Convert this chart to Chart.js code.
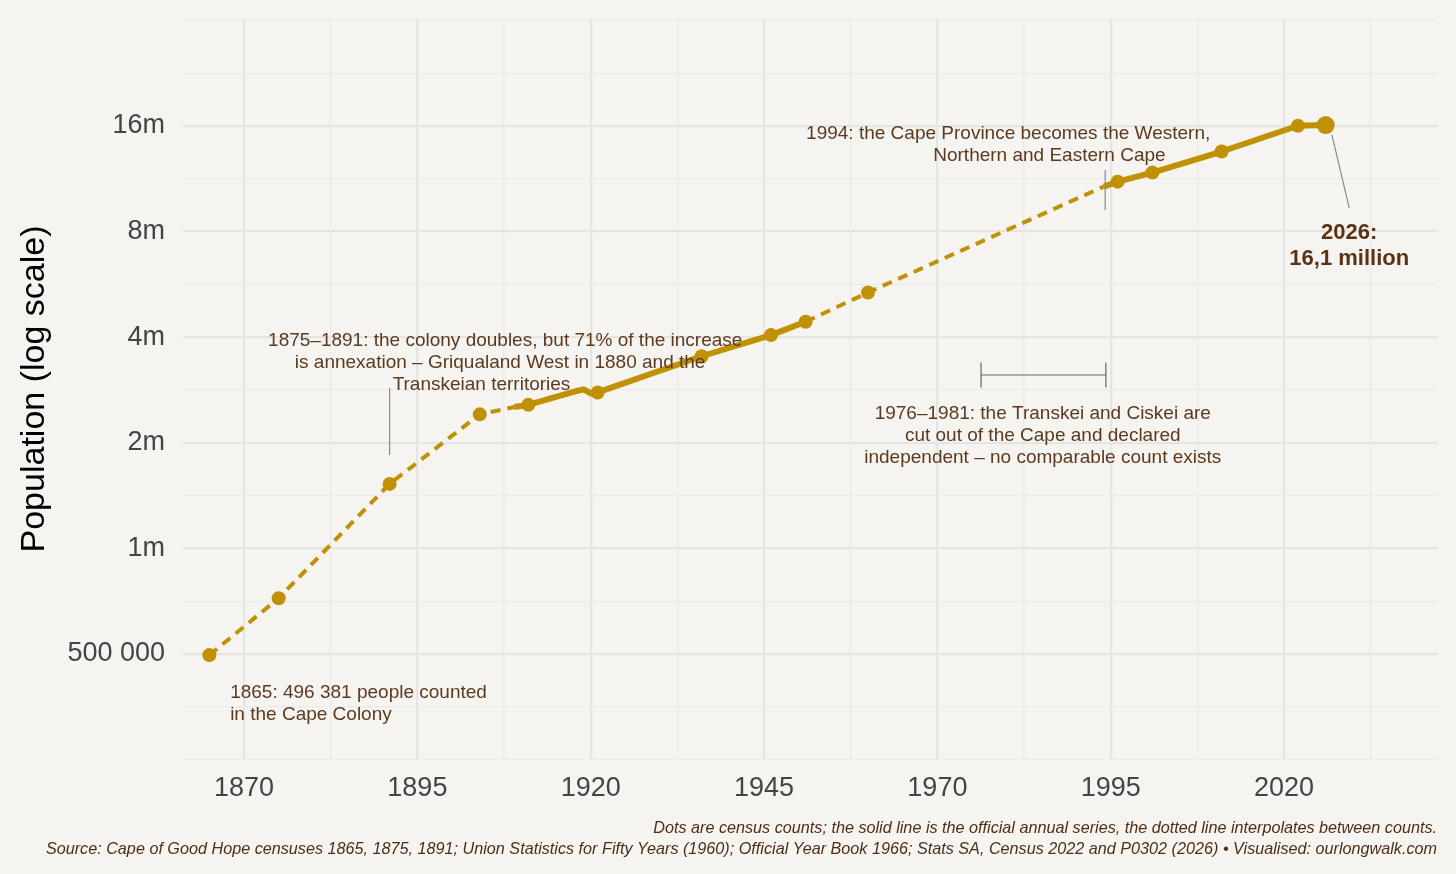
<!DOCTYPE html>
<html>
<head>
<meta charset="utf-8">
<script src="https://cdn.jsdelivr.net/npm/chart.js@4.4.1/dist/chart.umd.min.js"></script>
<style>
  html, body { margin: 0; padding: 0; background: #f6f4f0; }
  canvas { display: block; }
</style>
</head>
<body>
<canvas id="chart" width="1456" height="874"></canvas>
<script>
// census counts (dots)
const censusYears = [1865, 1875, 1891, 1904, 1911, 1921, 1936, 1946, 1951, 1960, 1996, 2001, 2011, 2022, 2026];
const censusPop = [496381, 721000, 1527000, 2410000, 2565000, 2783000, 3529000, 4054000, 4427000, 5363000, 11100000, 11780000, 13530000, 16020000, 16100000];

// official annual series (solid)
const annualYearsA = [1909, 1911, 1918, 1919, 1920, 1921, 1936, 1946, 1951];
const annualPopA = [2530000, 2565000, 2810000, 2840000, 2765000, 2783000, 3529000, 4054000, 4427000];
const annualYearsB = [1994, 1996, 2001, 2011, 2022, 2026];
const annualPopB = [10750000, 11100000, 11780000, 13530000, 16020000, 16100000];

// dotted stretches between counts
const gapYearsA = [1865, 1875, 1891, 1904, 1909];
const gapPopA = [496381, 721000, 1527000, 2410000, 2530000];
const gapYearsB = [1951, 1960, 1994];
const gapPopB = [4427000, 5363000, 10750000];

const xMajorTicks = [1870, 1895, 1920, 1945, 1970, 1995, 2020];
const xMinorTicks = [1882.5, 1907.5, 1932.5, 1957.5, 1982.5, 2007.5, 2032.5];
const yMajorTicks = [500000, 1000000, 2000000, 4000000, 8000000, 16000000];
const yTickLabels = ['500 000', '1m', '2m', '4m', '8m', '16m'];
const yMinorTicks = [250000, 353553, 707107, 1414214, 2828427, 5656854, 11313708, 22627417, 32000000];

const notes = [
  { year: 1868, pop: 387000, hjust: 0, lines: ['1865: 496 381 people counted', 'in the Cape Colony'] },
  { year: 1902.2, pop: 3900000, hjust: 0.42, lines: ['1875–1891: the colony doubles, but 71% of the increase', 'is annexation – Griqualand West in 1880 and the', 'Transkeian territories'] },
  { year: 1994.2, pop: 15200000, hjust: 0.74, lines: ['1994: the Cape Province becomes the Western,', 'Northern and Eastern Cape'] },
  { year: 1985.2, pop: 2420000, hjust: 0.5, lines: ['1976–1981: the Transkei and Ciskei are', 'cut out of the Cape and declared', 'independent – no comparable count exists'] }
];
const endNote = { year: 2029.4, pop: 7920000, lines: ['2026:', '16,1 million'] };
const leaders = [
  [1891, 2866000, 1891, 1846000],
  [1994.2, 11990000, 1994.2, 9220000],
  [2026.9, 15080000, 2029.4, 9340000]
];
const bracket = { from: 1976.3, to: 1994.3, pop: 3120000 };

const FONT = "'Liberation Sans', Arial, sans-serif";
const gold = '#c09104';
const ink = '#5b3a20';

const pts = (xs, ys) => xs.map((x, i) => ({ x: x, y: ys[i] }));

const annotate = {
  id: 'annotate',
  afterDatasetsDraw(chart) {
    const ctx = chart.ctx;
    const sx = chart.scales.x, sy = chart.scales.y;
    ctx.save();
    ctx.strokeStyle = '#8a8a8a';
    ctx.lineWidth = 1.2;
    leaders.forEach(l => {
      ctx.beginPath();
      ctx.moveTo(sx.getPixelForValue(l[0]), sy.getPixelForValue(l[1]));
      ctx.lineTo(sx.getPixelForValue(l[2]), sy.getPixelForValue(l[3]));
      ctx.stroke();
    });
    // bracket
    const bx1 = sx.getPixelForValue(bracket.from), bx2 = sx.getPixelForValue(bracket.to);
    const by = sy.getPixelForValue(bracket.pop);
    ctx.strokeStyle = '#666';
    ctx.beginPath();
    ctx.moveTo(bx1, by); ctx.lineTo(bx2, by);
    ctx.moveTo(bx1, by - 12.5); ctx.lineTo(bx1, by + 12.5);
    ctx.moveTo(bx2, by - 12.5); ctx.lineTo(bx2, by + 12.5);
    ctx.stroke();

    ctx.fillStyle = ink;
    ctx.font = '19px ' + FONT;
    ctx.textBaseline = 'middle';
    ctx.textAlign = 'left';
    notes.forEach(n => {
      const ax = sx.getPixelForValue(n.year);
      const ay = sy.getPixelForValue(n.pop);
      n.lines.forEach((t, i) => {
        const w = ctx.measureText(t).width;
        ctx.fillText(t, ax - n.hjust * w, ay + i * 22);
      });
    });
    ctx.font = 'bold 22px ' + FONT;
    ctx.fillStyle = '#5a3216';
    ctx.textAlign = 'center';
    const ex = sx.getPixelForValue(endNote.year), ey = sy.getPixelForValue(endNote.pop);
    endNote.lines.forEach((t, i) => ctx.fillText(t, ex, ey + i * 26));
    ctx.restore();
  },
  afterDraw(chart) {
    const ctx = chart.ctx;
    ctx.save();
    ctx.fillStyle = '#4e2e16';
    ctx.font = 'italic 16.2px ' + FONT;
    ctx.textAlign = 'right';
    ctx.textBaseline = 'middle';
    ctx.fillText('Dots are census counts; the solid line is the official annual series, the dotted line interpolates between counts.', 1437, 828);
    ctx.fillText('Source: Cape of Good Hope censuses 1865, 1875, 1891; Union Statistics for Fifty Years (1960); Official Year Book 1966; Stats SA, Census 2022 and P0302 (2026) • Visualised: ourlongwalk.com', 1437, 849);
    ctx.restore();
  }
};

const gridStyle = majors => ({
  drawTicks: false,
  color: c => majors.includes(c.tick.value) ? '#e7e5e4' : '#ecebe9',
  lineWidth: c => majors.includes(c.tick.value) ? 2.2 : 1.3
});

new Chart(document.getElementById('chart'), {
  type: 'line',
  data: {
    datasets: [
      {
        data: pts(censusYears, censusPop),
        showLine: false,
        pointRadius: censusYears.map(y => y === 2026 ? 9 : 7),
        pointBackgroundColor: gold,
        pointBorderWidth: 0,
        borderColor: gold
      },
      { data: pts(annualYearsA, annualPopA), borderColor: gold, borderWidth: 6, pointRadius: 0, borderJoinStyle: 'round' },
      { data: pts(annualYearsB, annualPopB), borderColor: gold, borderWidth: 6, pointRadius: 0, borderJoinStyle: 'round' },
      {
        data: [...pts(gapYearsA, gapPopA), { x: 1930, y: null }, ...pts(gapYearsB, gapPopB)],
        borderColor: gold, borderWidth: 4, borderDash: [10, 7], pointRadius: 0, spanGaps: false
      }
    ]
  },
  options: {
    responsive: false,
    animation: false,
    devicePixelRatio: 1,
    layout: { padding: { top: 18, right: 18, left: 0, bottom: 0 } },
    plugins: { legend: { display: false }, tooltip: { enabled: false } },
    scales: {
      x: {
        type: 'linear', min: 1861.2, max: 2042.2, bounds: 'data',
        afterBuildTicks: s => { s.ticks = [...xMajorTicks, ...xMinorTicks].sort((a, b) => a - b).map(v => ({ value: v })); },
        afterFit: s => { s.height = 114; s.paddingLeft = 0; s.paddingRight = 0; },
        grid: gridStyle(xMajorTicks),
        border: { display: false },
        ticks: {
          autoSkip: false, maxRotation: 0, padding: 12, color: '#444',
          font: { size: 27, family: FONT },
          callback: v => xMajorTicks.includes(v) ? String(v) : ''
        }
      },
      y: {
        type: 'logarithmic', min: 249300, max: 32500000, bounds: 'data',
        afterBuildTicks: s => { s.ticks = [...yMajorTicks, ...yMinorTicks].sort((a, b) => a - b).map(v => ({ value: v })); },
        afterFit: s => { s.width = 183; s.paddingTop = 0; s.paddingBottom = 0; },
        grid: gridStyle(yMajorTicks),
        border: { display: false },
        title: { display: true, text: 'Population (log scale)', color: '#000', font: { size: 34, family: FONT }, padding: { top: 14, bottom: 0 } },
        ticks: {
          autoSkip: false, padding: 18, color: '#444',
          font: { size: 27, family: FONT },
          callback: v => { const i = yMajorTicks.indexOf(v); return i >= 0 ? yTickLabels[i] : ''; }
        }
      }
    }
  },
  plugins: [annotate]
});
</script>
</body>
</html>
